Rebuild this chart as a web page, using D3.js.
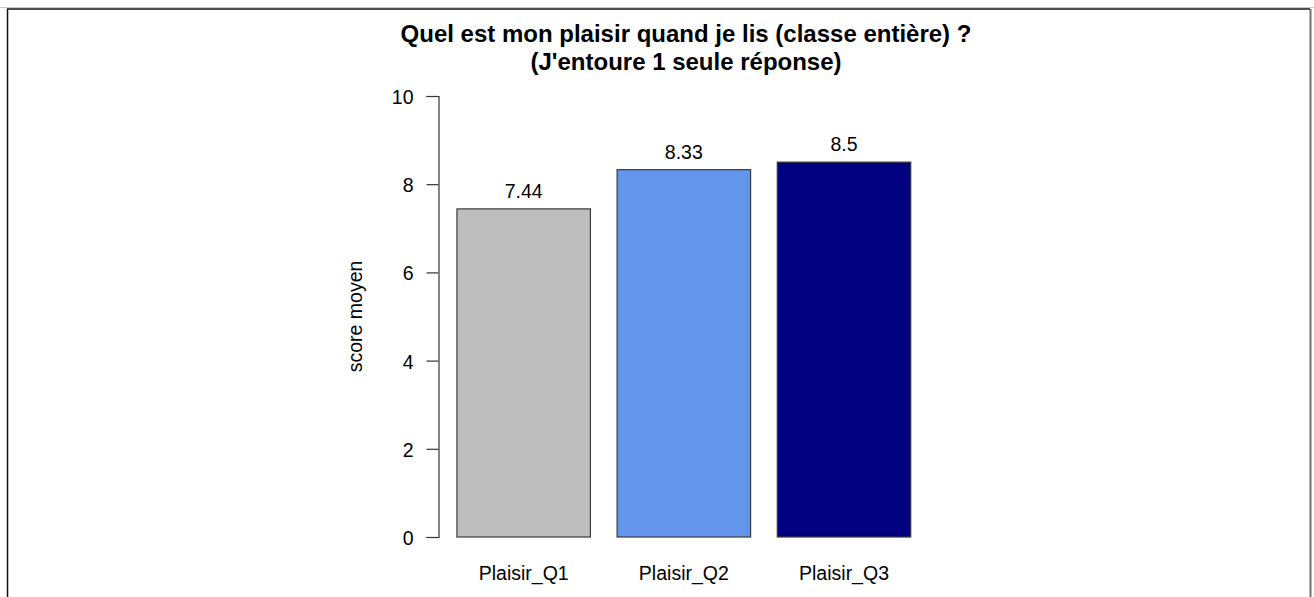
<!DOCTYPE html>
<html>
<head>
<meta charset="utf-8">
<script src="https://cdn.jsdelivr.net/npm/d3@7"></script>
<style>
  html, body { margin: 0; padding: 0; background: #fff; }
  svg { display: block; }
  text { font-family: "Liberation Sans", Arial, sans-serif; fill: #000; }
</style>
</head>
<body>
<script>
// Mean reading-pleasure scores per question
const categories = ["Plaisir_Q1", "Plaisir_Q2", "Plaisir_Q3"];
const scores = [7.44, 8.33, 8.5];
const barColors = ["#BEBEBE", "#6495ED", "#000080"];
const yTicks = [0, 2, 4, 6, 8, 10];
const titleLines = ["Quel est mon plaisir quand je lis (classe entière) ?", "(J'entoure 1 seule réponse)"];
const yLabel = "score moyen";

const W = 1314, H = 597;
const FS = "19.5px";
const svg = d3.select("body").append("svg").attr("width", W).attr("height", H);

// Frame around the figure
svg.append("line").attr("x1", 0).attr("x2", W).attr("y1", 7.5).attr("y2", 7.5)
  .attr("stroke", "#c8c8c8").attr("stroke-width", 1);
svg.append("line").attr("x1", 7).attr("x2", 1310).attr("y1", 9).attr("y2", 9)
  .attr("stroke", "#111").attr("stroke-width", 1.5);
svg.append("line").attr("x1", 7.5).attr("x2", 7.5).attr("y1", 9).attr("y2", H)
  .attr("stroke", "#111").attr("stroke-width", 1.5);
svg.append("line").attr("x1", 1310.5).attr("x2", 1310.5).attr("y1", 9).attr("y2", H)
  .attr("stroke", "#6e6e6e").attr("stroke-width", 2);

// Plot region: bars of width 1 separated by 0.2, axis padded by 4%
const step = 1.2, space = 0.2;
const xLo = space, xHi = categories.length * step;
const pad = (xHi - xLo) * 0.04;
const x = d3.scaleLinear().domain([xLo - pad, xHi + pad]).range([438.8, 928.9]);
const y = d3.scaleLinear().domain([0, 10]).range([537, 96]);

const bars = categories.map((c, i) => ({ c, v: scores[i], col: barColors[i], l: space + i * step }));

svg.selectAll("rect.bar").data(bars).enter().append("rect")
  .attr("class", "bar")
  .attr("x", d => x(d.l))
  .attr("width", d => x(d.l + 1) - x(d.l))
  .attr("y", d => y(d.v))
  .attr("height", d => y(0) - y(d.v))
  .attr("fill", d => d.col)
  .attr("stroke", "#3a3a3a").attr("stroke-width", 1.2);

// Value labels above bars
svg.selectAll("text.val").data(bars).enter().append("text")
  .attr("class", "val")
  .attr("x", d => x(d.l + 0.5))
  .attr("y", d => y(d.v) - 11)
  .attr("text-anchor", "middle")
  .style("font-size", FS)
  .text(d => String(d.v));

// Category labels under bars
svg.selectAll("text.cat").data(bars).enter().append("text")
  .attr("class", "cat")
  .attr("x", d => x(d.l + 0.5))
  .attr("y", 580)
  .attr("text-anchor", "middle")
  .style("font-size", FS)
  .text(d => d.c);

// Y axis
const yAxis = d3.axisLeft(y).tickValues(yTicks).tickSize(12).tickPadding(13).tickFormat(d3.format("d"));
const gy = svg.append("g").attr("transform", "translate(438.5,0)").call(yAxis);
gy.select(".domain").attr("stroke", "#333").attr("stroke-width", 1.2);
gy.selectAll(".tick line").attr("stroke", "#333").attr("stroke-width", 1.2);
gy.selectAll(".tick text")
  .attr("dy", null).attr("y", 7.5)
  .style("font-size", FS)
  .style("font-family", '"Liberation Sans", Arial, sans-serif')
  .attr("fill", "#000");

// Y axis title
svg.append("text")
  .attr("transform", `translate(362, ${y(5)}) rotate(-90)`)
  .attr("text-anchor", "middle")
  .style("font-size", FS)
  .text(yLabel);

// Chart title
svg.selectAll("text.title").data(titleLines).enter().append("text")
  .attr("class", "title")
  .attr("x", 686)
  .attr("y", (d, i) => 42 + i * 28)
  .attr("text-anchor", "middle")
  .style("font-size", "24px")
  .style("font-weight", "bold")
  .text(d => d);
</script>
</body>
</html>
